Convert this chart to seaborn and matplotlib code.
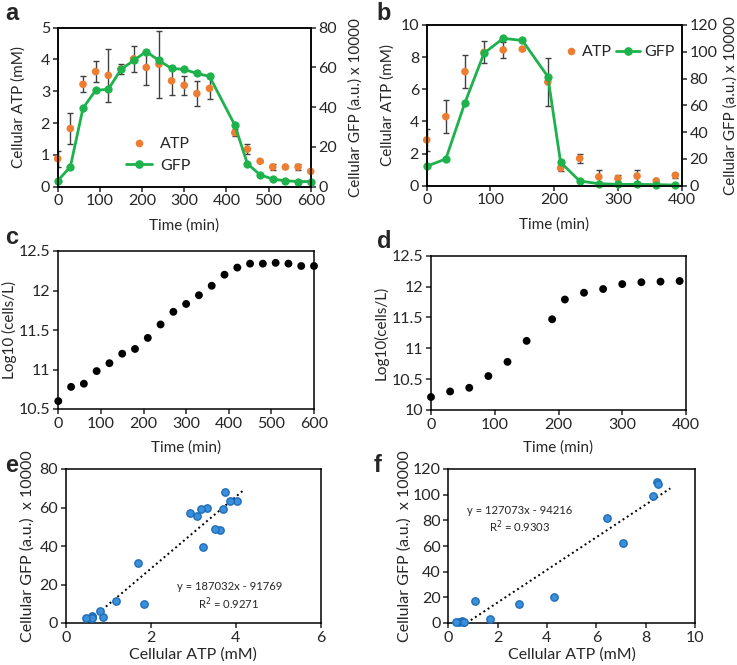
import numpy as np
import pandas as pd
import matplotlib
matplotlib.use('Agg')
import matplotlib.pyplot as plt
import seaborn as sns
from matplotlib.ticker import FuncFormatter
from matplotlib.lines import Line2D

# panel a: time course, first culture
a_time = [0, 30, 60, 90, 120, 150, 180, 210, 240, 270, 300, 330, 360, 420, 450, 480, 510, 540, 570, 600]
a_atp = [0.88, 1.83, 3.22, 3.62, 3.50, 3.70, 4.02, 3.75, 3.85, 3.33, 3.19, 2.93, 3.09, 1.70, 1.18, 0.80, 0.62, 0.62, 0.62, 0.48]
a_atp_err = [0.25, 0.50, 0.25, 0.33, 0.84, 0.15, 0.42, 0.56, 1.05, 0.45, 0.30, 0.40, 0.33, 0.12, 0.15, 0.03, 0.10, 0.03, 0.10, 0.03]
a_gfp = [3, 10, 39.5, 48.5, 49, 59, 63.5, 68, 63.5, 59.5, 59, 57, 55.5, 31, 11.5, 6, 3.8, 3, 2.6, 2.6]

# panel b: time course, second culture
b_time = [0, 30, 60, 90, 120, 150, 190, 210, 240, 270, 300, 330, 360, 390]
b_atp = [2.85, 4.30, 7.10, 8.30, 8.45, 8.50, 6.45, 1.10, 1.70, 0.55, 0.45, 0.60, 0.30, 0.65]
b_atp_err = [0.70, 1.05, 1.05, 0.68, 0.50, 0.05, 1.50, 0.20, 0.30, 0.40, 0.20, 0.35, 0.08, 0.15]
b_gfp = [14.5, 20, 62, 99, 110, 108.5, 81.5, 17.5, 3.5, 1.5, 1, 1, 0.8, 0.5]

# panels c, d: cell density
c_time = [0, 30, 60, 90, 120, 150, 180, 210, 240, 270, 300, 330, 360, 390, 420, 450, 480, 510, 540, 570, 600]
c_log = [10.60, 10.78, 10.82, 10.98, 11.08, 11.20, 11.26, 11.40, 11.57, 11.73, 11.83, 11.94, 12.06, 12.20,
         12.29, 12.34, 12.34, 12.35, 12.34, 12.31, 12.31]
d_time = [0, 30, 60, 90, 120, 150, 190, 210, 240, 270, 300, 330, 360, 390]
d_log = [10.21, 10.30, 10.36, 10.55, 10.78, 11.12, 11.47, 11.79, 11.90, 11.96, 12.04, 12.07, 12.08, 12.09]

# trendlines (GFP in units of 10000)
e_fit = [18.7032, -9.1769]
f_fit = [12.7073, -9.4216]

ORANGE = '#ED7D31'
GREEN = '#1DB24B'
BLUE = '#3A8FDA'
BLUE_EDGE = '#1F6DB8'
W, H = 737, 665

sns.set_style('ticks')
plt.rcParams['font.family'] = ['Lato', 'DejaVu Sans']
plt.rcParams['axes.linewidth'] = 1.1
plt.rcParams['xtick.major.size'] = 3.5
plt.rcParams['ytick.major.size'] = 3.5
plt.rcParams['xtick.major.width'] = 1.1
plt.rcParams['ytick.major.width'] = 1.1
plt.rcParams['axes.edgecolor'] = 'black'

fig = plt.figure(figsize=(W / 100, H / 100), dpi=100)


def box(l, t, r, b):
    return fig.add_axes([l / W, 1 - b / H, (r - l) / W, (b - t) / H])


def px_text(x, y, s, **kw):
    fig.text(x / W, 1 - y / H, s, **kw)


gfmt = FuncFormatter(lambda v, p: f'{v:g}')
TICK = 11.5
LAB = 11


def style(ax):
    ax.tick_params(labelsize=TICK, direction='out', top=False, right=False, pad=2)
    for s in ax.spines.values():
        s.set_visible(True)
        s.set_color('black')


def time_course(ax, t, atp, err, gfp, ymax, y2max, ystep, y2step, xmax):
    ax2 = ax.twinx()
    ax.errorbar(t, atp, yerr=err, fmt='none', ecolor='#404040', elinewidth=1, capsize=2.2, capthick=1, zorder=1)
    sns.scatterplot(x=t, y=atp, ax=ax, color=ORANGE, s=30, edgecolor='none', zorder=3, clip_on=False)
    sns.lineplot(x=t, y=gfp, ax=ax2, color=GREEN, marker='o', markersize=5.2, markeredgecolor=GREEN,
                 linewidth=2, zorder=2, clip_on=False)
    ax.set_xlim(0, xmax)
    ax.set_ylim(0, ymax)
    ax2.set_ylim(0, y2max)
    ax.set_yticks(np.arange(0, ymax + 0.01, ystep))
    ax2.set_yticks(np.arange(0, y2max + 0.01, y2step))
    ax.set_xticks(np.arange(0, xmax + 1, 100))
    style(ax)
    ax2.tick_params(labelsize=TICK, direction='out', right=True, left=False, pad=2)
    ax.yaxis.set_major_formatter(gfmt)
    ax.set_ylabel('Cellular ATP (mM)', fontsize=LAB)
    ax2.set_ylabel('Cellular GFP (a.u.) x 10000', fontsize=LAB)
    ax.set_xlabel('Time (min)', fontsize=LAB)
    return ax2


def atp_handle():
    return Line2D([], [], color=ORANGE, marker='o', linestyle='none', markersize=5.5, markeredgecolor='none')


def gfp_handle():
    return Line2D([], [], color=GREEN, marker='o', linewidth=2, markersize=5.2)


# a
ax_a = box(57.7, 27.7, 310.7, 186.7)
ax_a2 = time_course(ax_a, a_time, a_atp, a_atp_err, a_gfp, 5, 80, 1, 20, 600)
ax_a.yaxis.set_label_coords(-0.125, 0.5)
ax_a2.yaxis.set_label_coords(1.15, 0.5)
ax_a.xaxis.set_label_coords(0.5, -0.2)
ax_a2.legend([atp_handle(), gfp_handle()], ['ATP', 'GFP'], loc='center left', bbox_to_anchor=(0.215, 0.2),
             frameon=False, fontsize=11.5, handlelength=1.6, handletextpad=0.5, labelspacing=0.45)

# b
ax_b = box(426.7, 25, 681.7, 185.7)
ax_b2 = time_course(ax_b, b_time, b_atp, b_atp_err, b_gfp, 10, 120, 2, 20, 400)
ax_b.yaxis.set_label_coords(-0.125, 0.5)
ax_b2.yaxis.set_label_coords(1.165, 0.5)
ax_b.xaxis.set_label_coords(0.5, -0.2)
leg_atp = ax_b2.legend([atp_handle()], ['ATP'], loc='center left', bbox_to_anchor=(0.49, 0.83),
                       frameon=False, fontsize=11.5, handlelength=0.6, handletextpad=0.4)
ax_b2.add_artist(leg_atp)
ax_b2.legend([gfp_handle()], ['GFP'], loc='center left', bbox_to_anchor=(0.685, 0.83),
             frameon=False, fontsize=11.5, handlelength=1.5, handletextpad=0.3)


def growth(ax, t, y, ylo, xmax, ylab):
    sns.scatterplot(x=t, y=y, ax=ax, color='black', s=32, edgecolor='none', clip_on=False)
    ax.set_xlim(0, xmax)
    ax.set_ylim(ylo, 12.5)
    ax.set_yticks(np.arange(ylo, 12.51, 0.5))
    ax.set_xticks(np.arange(0, xmax + 1, 100))
    ax.yaxis.set_major_formatter(gfmt)
    style(ax)
    ax.set_ylabel(ylab, fontsize=LAB)
    ax.set_xlabel('Time (min)', fontsize=LAB)


# c
ax_c = box(58.3, 251, 314, 409)
growth(ax_c, c_time, c_log, 10.5, 600, 'Log10 (cells/L)')
ax_c.yaxis.set_label_coords(-0.16, 0.5)
ax_c.xaxis.set_label_coords(0.5, -0.2)

# d
ax_d = box(431, 255.7, 686, 410)
growth(ax_d, d_time, d_log, 10, 400, 'Log10(cells/L)')
ax_d.yaxis.set_label_coords(-0.165, 0.5)
ax_d.xaxis.set_label_coords(0.5, -0.2)


def correlation(ax, atp, gfp, fit, x_end, xmax, ymax, ystep, xstep):
    x0 = max(min(atp), -fit[1] / fit[0])
    xs = np.array([x0, x_end])
    ax.plot(xs, fit[0] * xs + fit[1], color='black', linestyle=(0, (1, 1.6)), linewidth=1.4, zorder=1)
    sns.scatterplot(x=atp, y=gfp, ax=ax, color=BLUE, edgecolor=BLUE_EDGE, linewidth=1, s=28, zorder=3,
                    clip_on=False)
    ax.set_xlim(0, xmax)
    ax.set_ylim(0, ymax)
    ax.set_xticks(np.arange(0, xmax + 0.01, xstep))
    ax.set_yticks(np.arange(0, ymax + 0.01, ystep))
    ax.xaxis.set_major_formatter(gfmt)
    style(ax)
    ax.set_xlabel('Cellular ATP (mM)', fontsize=LAB + 0.5)
    ax.set_ylabel('Cellular GFP (a.u.)  x 10000', fontsize=LAB + 0.5)


# e
ax_e = box(65.7, 469, 321, 623)
correlation(ax_e, a_atp, a_gfp, e_fit, 4.2, 6, 80, 20, 2)
ax_e.yaxis.set_label_coords(-0.12, 0.5)
ax_e.xaxis.set_label_coords(0.5, -0.16)
px_text(230, 587, 'y = 187032x - 91769', ha='center', va='center', fontsize=8.1)
px_text(229, 604, 'R$^2$ = 0.9271', ha='center', va='center', fontsize=8.1)

# f
ax_f = box(448.3, 469, 695, 623)
correlation(ax_f, b_atp, b_gfp, f_fit, 9.0, 10, 120, 20, 2)
ax_f.yaxis.set_label_coords(-0.15, 0.5)
ax_f.xaxis.set_label_coords(0.5, -0.16)
px_text(520, 511, 'y = 127073x - 94216', ha='center', va='center', fontsize=8.1)
px_text(520, 527, 'R$^2$ = 0.9303', ha='center', va='center', fontsize=8.1)

# panel letters
for x, y, s in [(12, 14, 'a'), (384, 14, 'b'), (12, 238, 'c'), (384, 242, 'd'), (12, 465, 'e'), (378, 465, 'f')]:
    px_text(x, y, s, ha='center', va='center', fontsize=17, fontweight='bold',
            family=['Liberation Sans', 'DejaVu Sans'])

fig.savefig('out.png', dpi=100)
